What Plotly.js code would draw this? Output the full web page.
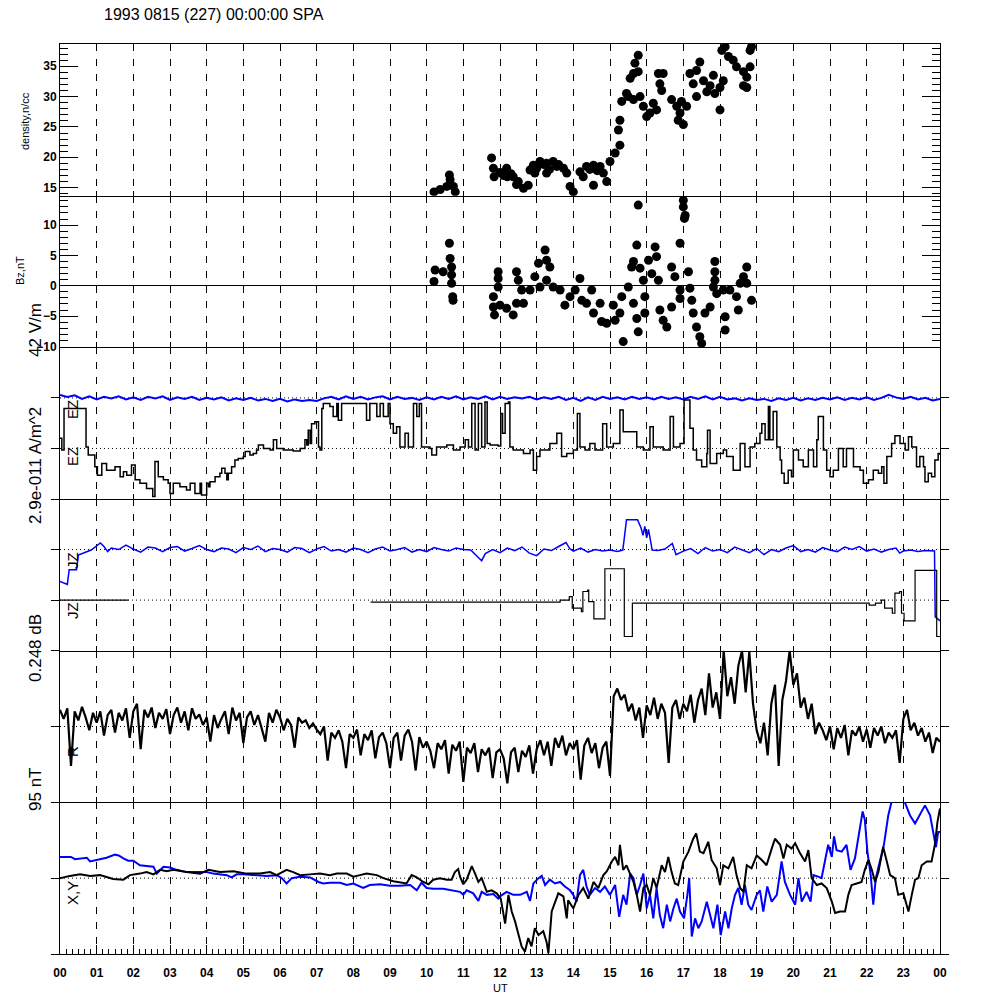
<!DOCTYPE html>
<html>
<head>
<meta charset="utf-8">
<script src="https://cdn.plot.ly/plotly-3.0.1.min.js"></script>
<style>html,body{margin:0;padding:0;background:#fff;}#chart{width:1000px;height:1000px;}</style>
</head>
<body>
<div id="chart"></div>
<script>
// ---------- tick labels ----------
const hourTicks = [0,1,2,3,4,5,6,7,8,9,10,11,12,13,14,15,16,17,18,19,20,21,22,23,24];
const hourLabels = ['00','01','02','03','04','05','06','07','08','09','10','11','12','13','14','15','16','17','18','19','20','21','22','23','00'];
const densTicks = [15,20,25,30,35];
const bzTicks = [-10,-5,0,5,10];

// ---------- panel 1: density (n/cc) ----------
const densHour = [10.20,10.37,10.55,10.62,10.64,10.73,10.78,11.77,11.82,11.84,12.00,12.10,12.18,12.20,12.30,12.36,12.45,12.50,12.64,12.77,12.82,12.91,12.95,13.00,13.09,13.20,13.27,13.27,13.35,13.45,13.55,13.60,13.73,13.82,13.91,14.00,14.18,14.27,14.36,14.45,14.55,14.55,14.65,14.73,14.82,14.91,15.00,15.14,15.27,15.23,15.27,15.32,15.45,15.55,15.64,15.68,15.77,15.77,15.50,15.64,15.82,15.91,16.00,16.09,16.18,16.27,16.32,16.45,16.36,16.41,16.68,16.82,16.86,16.91,16.95,17.00,17.09,17.18,17.27,17.36,17.36,17.45,17.55,17.64,17.73,17.82,17.86,18.00,18.00,18.05,18.09,18.14,18.23,18.36,18.45,18.64,18.64,18.73,18.73,18.82,18.82,18.86];
const densVal  = [14.3,14.7,15.2,17.1,16.3,15.2,14.3,19.9,18.2,16.8,17.5,17.0,18.2,16.8,17.3,16.8,15.5,16.0,14.9,15.4,17.9,18.7,17.4,18.2,19.3,18.8,19.0,17.4,18.0,19.3,18.5,18.8,18.2,17.4,15.2,14.3,17.6,16.8,18.5,18.0,18.7,15.4,17.8,18.5,17.4,16.0,19.3,20.7,22.0,24.5,26.1,29.2,30.5,33.0,33.8,35.5,36.8,34.1,30.0,29.5,30.0,28.4,26.7,27.3,28.9,27.8,33.8,33.8,32.1,31.0,29.5,28.4,26.1,27.3,29.2,25.4,28.4,33.8,32.1,34.3,30.0,35.7,32.6,30.8,31.8,33.5,30.5,31.5,27.8,37.6,32.6,38.2,36.6,36.0,34.9,34.1,31.8,33.2,31.5,37.6,34.9,38.2];

// ---------- panel 2: Bz (nT) ----------
const bzHour = [10.20,10.23,10.45,10.62,10.64,10.68,10.68,10.68,10.71,10.72,11.82,11.82,11.85,11.95,11.95,11.95,12.00,12.18,12.36,12.45,12.45,12.50,12.59,12.64,12.82,12.95,13.05,13.09,13.23,13.27,13.27,13.36,13.45,13.64,13.77,13.91,14.05,14.18,14.23,14.36,14.50,14.55,14.73,14.77,14.91,15.09,15.14,15.27,15.32,15.36,15.50,15.59,15.64,15.64,15.73,15.73,15.77,15.77,15.82,15.91,15.95,15.95,16.05,16.14,16.23,16.27,16.32,16.36,16.45,16.55,16.68,16.68,16.77,16.91,16.91,16.91,17.00,17.00,17.05,17.03,17.14,17.18,17.23,17.27,17.36,17.45,17.50,17.59,17.73,17.82,17.86,17.86,17.86,17.91,18.09,18.14,18.14,18.27,18.45,18.50,18.55,18.64,18.73,18.73,18.86];
const bzVal  = [0.7,2.6,2.3,7.0,4.5,3.1,1.8,0.4,-1.8,-2.4,-1.8,-3.5,-4.8,2.3,1.2,-0.2,-3.2,-3.7,-4.8,2.3,-2.9,0.9,-0.7,-2.9,-0.7,1.5,3.7,-0.2,5.9,4.2,0.9,3.1,-0.2,-0.7,-3.2,-1.8,-0.7,1.2,-2.4,-2.9,-0.7,-4.5,-2.9,-5.9,-6.2,-3.2,-5.7,-4.5,-1.8,-9.2,-0.2,3.1,4.0,-2.9,-5.4,6.7,13.3,-7.6,2.9,0.9,-1.8,-4.5,4.2,2.0,6.4,4.8,0.9,-4.0,-5.7,-6.8,-3.5,3.1,1.5,7.0,-0.7,-2.1,14.1,13.0,11.6,11.1,2.3,-0.4,-2.4,-4.5,-6.8,-8.4,-9.5,-4.5,-3.5,-0.2,4.0,2.3,0.9,-1.3,-0.7,-5.1,-7.3,-0.7,-1.8,-4.0,0.4,1.5,3.1,0.4,-2.4];

// ---------- panel 3: EZ (black step trace, blue trace) ----------
const ezBlackHour = [0.00,0.05,0.11,0.68,0.71,0.77,0.95,1.02,1.14,1.27,1.50,1.64,1.73,1.82,1.95,2.05,2.18,2.36,2.53,2.59,2.68,2.82,2.95,3.00,3.09,3.27,3.45,3.55,3.68,3.82,3.86,4.00,4.05,4.09,4.23,4.36,4.41,4.50,4.55,4.59,4.68,4.77,4.86,5.00,5.05,5.18,5.27,5.36,5.41,5.55,5.73,5.82,5.91,6.09,6.36,6.55,6.68,6.73,6.77,6.82,6.86,6.95,7.05,7.09,7.14,7.18,7.36,7.45,7.55,7.59,7.68,8.27,8.36,8.45,8.64,8.73,8.82,8.95,9.00,9.09,9.18,9.27,9.41,9.50,9.64,9.73,9.80,9.86,10.09,10.14,10.27,10.55,10.73,10.91,11.05,11.14,11.23,11.32,11.41,11.50,11.59,11.65,11.73,11.95,12.02,12.07,12.14,12.23,12.27,12.36,12.64,12.82,12.91,13.00,13.09,13.36,13.55,13.68,13.82,14.00,14.11,14.18,14.32,14.45,14.59,14.80,14.91,15.09,15.27,15.36,15.64,15.73,15.91,16.09,16.18,16.45,16.64,16.73,16.91,17.02,17.09,17.18,17.27,17.36,17.50,17.64,17.66,17.73,17.91,18.09,18.18,18.36,18.55,18.68,18.82,18.95,19.09,19.14,19.23,19.32,19.36,19.45,19.55,19.64,19.68,19.75,19.86,19.95,20.00,20.14,20.27,20.41,20.55,20.64,20.68,20.82,20.91,21.00,21.09,21.23,21.36,21.45,21.64,21.82,21.91,22.05,22.18,22.32,22.41,22.47,22.55,22.68,22.77,22.91,23.05,23.14,23.23,23.36,23.45,23.55,23.59,23.68,23.77,23.86,23.95,24.00];
const ezBlackVal  = [1.20,0.97,1.79,1.79,1.03,0.87,0.64,0.47,0.70,0.57,0.64,0.44,0.54,0.47,0.67,0.38,0.31,0.21,0.05,0.74,0.44,0.38,0.31,0.11,0.31,0.24,0.18,0.31,0.11,0.31,0.08,0.31,0.24,0.34,0.44,0.51,0.61,0.51,0.38,0.51,0.64,0.77,0.80,0.84,0.94,0.87,0.90,0.97,1.07,1.00,0.97,1.17,1.00,0.97,0.95,1.00,1.17,1.07,1.36,1.10,1.49,1.53,1.03,0.97,1.79,1.89,1.83,1.63,1.89,1.56,1.89,1.89,1.56,1.89,1.63,1.89,1.63,1.89,1.49,1.30,1.43,1.03,1.30,1.03,1.89,1.63,1.89,1.03,1.00,0.87,1.03,1.07,0.97,1.03,1.17,1.03,1.89,0.97,1.89,1.03,1.92,1.10,1.07,1.05,1.69,1.30,1.89,1.92,1.03,0.97,0.90,0.97,0.57,0.84,0.97,1.10,1.30,0.84,0.90,0.97,1.69,1.03,0.97,1.10,0.97,1.49,1.03,1.10,1.76,1.33,1.33,1.03,0.97,1.43,1.03,0.97,1.63,1.03,1.10,1.96,1.96,1.40,0.97,0.77,0.64,0.90,1.36,0.70,0.90,0.97,0.84,0.57,1.10,0.64,1.03,1.10,1.30,1.49,1.17,1.83,1.17,1.73,1.03,0.77,0.51,0.31,0.57,0.44,0.97,0.77,0.64,0.97,0.64,1.17,1.63,0.97,0.57,0.44,0.57,1.00,0.64,1.00,0.64,0.57,0.31,0.38,0.57,0.51,0.64,0.31,0.84,1.10,1.25,1.10,0.97,1.23,1.03,0.64,0.84,0.64,0.34,0.51,0.44,0.77,0.90,0.87];
// blue EZ trace, one value every 0.2 h from 00 UT
const ezBlueVal = [2.06,2.02,2.05,1.98,2.03,1.97,2.02,1.99,2.03,1.97,2.01,1.96,2.02,1.99,2.03,1.96,2.01,1.98,2.02,1.96,2.00,1.97,2.01,1.95,1.99,1.96,2.00,1.95,1.98,1.94,1.98,1.93,1.97,1.94,1.96,1.94,1.99,2.02,1.97,2.03,1.98,2.02,1.97,2.01,2.03,1.97,2.02,1.98,2.00,1.96,2.01,1.97,2.02,1.98,2.03,1.97,2.01,1.98,2.03,1.97,2.02,1.98,2.01,1.99,2.02,1.97,2.01,1.98,2.02,1.96,2.00,1.94,2.01,1.96,2.02,1.98,2.01,1.97,2.02,1.98,2.01,1.97,2.02,1.98,2.01,1.97,2.02,1.98,2.03,1.97,2.02,1.97,1.99,1.95,1.99,1.96,1.98,1.94,1.99,1.96,2.00,1.95,1.99,1.96,2.00,1.97,2.01,1.96,2.00,1.97,2.01,1.96,2.00,2.06,2.01,1.98,2.02,1.97,2.00,1.95,1.98];

// ---------- panel 4: JZ ----------
const jzBlackHour = [0.00,1.87,1.88,8.47,13.47,13.64,13.89,13.97,14.22,14.26,14.39,14.42,14.56,14.81,14.86,15.36,15.39,15.53,15.61,21.74,22.07,22.24,22.40,22.49,22.70,22.77,22.90,22.95,23.02,23.29,23.32,23.82,23.91,24.00];
const jzBlackVal  = [1.00,1.00,null,0.96,0.96,1.00,1.07,0.84,0.77,1.17,1.20,0.97,0.63,0.63,1.62,1.62,0.28,0.28,0.94,0.94,0.90,0.94,1.00,0.84,0.74,1.14,1.17,0.74,0.59,0.59,1.59,1.59,0.28,0.28];
const jzBlueHour = [0.00,0.20,0.25,0.45,0.50,0.70,0.85,1.10,1.20,1.30,1.4,1.6,1.8,2.0,2.2,2.4,2.6,2.8,3.0,3.2,3.4,3.6,3.8,4.0,4.2,4.4,4.6,4.8,5.0,5.2,5.4,5.6,5.8,6.0,6.2,6.4,6.6,6.8,7.0,7.2,7.4,7.6,7.8,8.0,8.2,8.4,8.6,8.8,9.0,9.2,9.4,9.6,9.8,10.0,10.2,10.4,10.6,10.8,11.0,11.2,11.4,11.5,11.6,11.8,12.0,12.2,12.4,12.6,12.8,13.0,13.2,13.4,13.6,13.8,13.9,14.0,14.2,14.4,14.6,14.8,15.0,15.2,15.35,15.45,15.75,15.85,15.9,15.95,16.0,16.05,16.15,16.3,16.5,16.7,16.8,17.0,17.2,17.4,17.6,17.8,18.0,18.2,18.4,18.6,18.8,19.0,19.2,19.4,19.6,19.8,20.0,20.2,20.4,20.6,20.8,21.0,21.2,21.4,21.6,21.8,22.0,22.2,22.4,22.6,22.8,22.9,23.0,23.2,23.4,23.6,23.85,23.87,24.0];
const jzBlueVal  = [1.37,1.31,1.60,1.60,1.89,1.95,1.99,2.13,2.06,1.96,2.03,2.00,2.09,2.01,1.95,2.05,2.03,1.96,2.04,2.06,1.97,2.02,2.08,2.00,1.96,2.03,2.01,1.94,2.04,2.00,2.07,1.96,2.02,2.00,1.95,2.04,2.02,1.94,2.01,2.06,1.97,2.00,1.95,2.03,2.00,1.94,2.01,2.05,1.97,2.00,2.04,1.95,2.00,1.96,2.04,2.00,1.97,2.03,2.00,1.99,1.86,1.78,1.92,2.00,1.94,2.03,1.98,2.05,1.93,1.88,2.01,1.98,2.06,2.14,2.02,1.97,2.03,1.95,2.00,1.97,1.99,1.96,1.99,2.59,2.59,2.42,2.28,2.46,2.23,2.40,1.99,1.98,2.01,2.12,1.90,1.97,2.02,1.92,2.04,1.97,2.00,1.94,2.05,1.99,1.94,2.02,1.90,2.00,1.96,2.03,2.08,1.96,2.00,1.95,2.04,1.99,1.96,2.05,2.00,2.06,1.97,2.01,1.95,2.00,2.03,1.93,1.97,1.99,1.96,1.98,1.97,0.67,0.59];

// ---------- panel 5: R (one value every 0.1 h from 00 UT) ----------
const rVal = [1.22,1.10,1.24,0.48,1.20,1.08,1.26,1.12,0.95,1.18,
1.05,1.20,0.88,1.15,1.22,0.92,1.18,1.08,1.24,0.85,
1.20,1.30,0.70,1.22,1.12,1.25,0.98,1.18,1.10,1.23,
0.90,1.15,1.25,1.05,1.20,0.95,1.24,1.10,1.16,1.02,
1.12,0.80,1.15,0.98,1.10,1.20,0.90,1.25,1.08,1.18,
0.78,1.12,1.20,1.02,1.15,0.96,0.80,1.18,1.05,1.22,
1.12,0.95,1.10,1.02,0.72,1.12,1.05,1.08,0.98,1.04,
0.96,0.90,1.00,0.55,0.92,0.85,0.95,0.80,0.45,0.90,
0.85,0.96,0.62,0.90,0.82,0.95,0.58,0.86,0.92,0.78,
0.45,0.85,0.92,0.55,0.88,0.96,0.80,0.42,0.86,0.72,
0.80,0.68,0.45,0.78,0.70,0.82,0.38,0.76,0.68,0.80,
0.27,0.72,0.65,0.78,0.40,0.70,0.62,0.72,0.32,0.66,
0.70,0.58,0.25,0.66,0.72,0.40,0.68,0.60,0.75,0.38,
0.70,0.82,0.62,0.80,0.48,0.85,0.72,0.88,0.62,0.78,
0.70,0.82,0.30,0.75,0.85,0.65,0.78,0.45,0.72,0.80,
0.35,1.40,1.50,1.35,1.42,1.20,1.30,1.08,1.25,0.85,
1.28,1.15,1.38,1.10,1.30,1.18,0.52,1.25,1.35,1.10,
1.30,1.20,1.42,1.05,1.35,1.50,1.15,1.70,1.25,1.45,
1.10,2.00,1.40,1.65,1.30,1.80,2.00,1.45,1.98,1.30,
0.95,0.78,1.05,0.62,1.30,1.55,0.48,1.35,1.60,2.00,
1.55,1.70,1.25,1.38,1.10,1.30,0.90,1.05,0.95,0.82,
1.00,0.70,0.98,0.85,1.02,0.62,0.95,0.88,1.00,0.80,
0.96,0.72,0.98,0.88,1.00,0.78,0.92,0.85,0.95,0.52,
1.10,1.22,0.95,1.05,0.88,0.98,0.80,0.92,0.65,0.85,
0.80];

// ---------- panel 6: X (black) and Y (blue) ----------
const xHour = [0,0.27,0.55,0.82,1.09,1.27,1.45,1.73,1.91,2.18,2.36,2.55,2.73,2.91,3.09,3.45,3.82,4.05,4.36,4.73,5.09,5.45,5.73,5.91,6.18,6.36,6.55,6.82,7.09,7.36,7.55,7.82,8.0,8.18,8.36,8.64,8.82,9.09,9.27,9.45,9.59,9.73,9.91,10.05,10.18,10.36,10.55,10.68,10.77,10.86,10.91,11.0,11.09,11.23,11.32,11.41,11.5,11.64,11.77,11.91,12.02,12.09,12.14,12.23,12.32,12.41,12.5,12.59,12.68,12.77,12.86,12.95,13.05,13.18,13.27,13.32,13.41,13.5,13.59,13.73,13.82,13.86,14.0,14.14,14.27,14.41,14.55,14.68,14.82,14.91,15.05,15.14,15.23,15.27,15.36,15.45,15.55,15.64,15.73,15.82,15.91,16.0,16.09,16.18,16.27,16.41,16.5,16.59,16.68,16.77,16.86,17.0,17.14,17.27,17.35,17.45,17.55,17.68,17.77,17.91,18.0,18.09,18.23,18.36,18.45,18.55,18.64,18.73,18.86,19.0,19.14,19.27,19.41,19.5,19.64,19.73,19.82,19.95,20.05,20.18,20.32,20.41,20.5,20.64,20.77,20.91,21.05,21.14,21.27,21.41,21.5,21.59,21.73,21.86,21.95,22.05,22.14,22.23,22.32,22.45,22.55,22.64,22.77,22.86,23.0,23.14,23.23,23.32,23.41,23.5,23.64,23.77,23.86,23.93,24.0];
const xVal  = [1.00,1.03,1.05,1.03,1.04,1.02,0.99,0.98,1.04,1.06,1.08,1.05,1.11,1.09,1.11,1.08,1.06,1.11,1.08,1.09,1.06,1.06,1.08,1.04,1.11,1.08,1.04,1.05,1.06,1.04,1.06,1.06,1.02,1.04,1.06,1.04,1.00,0.96,0.94,0.93,1.04,1.01,0.95,0.92,0.98,1.00,0.98,0.98,1.08,1.12,1.02,0.92,0.98,1.16,1.06,0.95,1.00,0.82,0.84,0.80,0.73,0.56,0.40,0.78,0.56,0.43,0.25,0.10,0.03,0.21,0.10,0.34,0.25,0.30,0.16,0.01,0.56,0.69,0.80,0.76,0.47,0.71,0.60,0.78,0.87,0.73,0.95,0.87,1.04,1.09,1.22,1.28,1.17,1.44,1.11,1.17,1.04,0.95,0.78,0.56,0.87,0.91,0.78,1.00,0.87,1.17,1.08,1.28,1.08,0.93,0.91,1.22,1.35,1.52,1.59,1.35,1.33,1.48,1.24,1.13,0.91,1.17,1.13,1.28,1.04,0.87,0.82,1.17,1.13,1.30,1.24,1.17,1.39,1.52,1.44,1.26,1.44,1.39,1.46,1.33,1.22,1.37,1.00,0.91,0.93,0.87,0.69,0.54,0.56,0.56,0.78,0.91,0.93,0.95,1.11,1.24,1.11,0.95,1.08,1.41,1.22,1.04,1.00,0.78,0.80,0.56,0.78,0.98,1.00,1.17,1.22,1.22,1.44,1.74,1.92];
const yHour = [0,0.30,0.41,0.73,0.82,1.0,1.09,1.27,1.5,1.6,1.73,1.86,2.0,2.18,2.36,2.55,2.64,2.73,2.82,3.0,3.18,3.45,3.73,4.0,4.18,4.36,4.55,4.68,4.82,5.0,5.27,5.64,5.91,6.05,6.18,6.32,6.55,6.82,7.05,7.18,7.36,7.64,7.82,8.0,8.27,8.45,8.73,9.0,9.27,9.55,9.73,9.86,10.0,10.18,10.45,10.73,10.91,11.0,11.09,11.27,11.41,11.5,11.64,11.82,11.95,12.0,12.18,12.36,12.55,12.73,12.82,12.91,13.05,13.14,13.23,13.36,13.5,13.64,13.77,13.91,14.0,14.09,14.18,14.27,14.36,14.45,14.59,14.73,14.86,15.0,15.14,15.25,15.36,15.45,15.55,15.64,15.73,15.82,15.91,16.0,16.09,16.18,16.27,16.36,16.45,16.55,16.64,16.73,16.82,16.91,17.02,17.11,17.16,17.23,17.32,17.41,17.5,17.64,17.73,17.82,17.93,18.02,18.14,18.23,18.32,18.41,18.5,18.59,18.68,18.77,18.86,19.0,19.09,19.18,19.29,19.41,19.55,19.68,19.77,19.91,20.05,20.14,20.23,20.36,20.47,20.55,20.68,20.77,20.86,20.95,21.05,21.11,21.18,21.32,21.45,21.56,21.68,21.8,21.89,21.95,22.02,22.11,22.18,22.25,22.36,22.47,22.59,22.7,23.0,23.18,23.32,23.45,23.59,23.73,23.82,23.89,23.95,24.0];
const yVal  = [1.28,1.28,1.25,1.27,1.22,1.24,1.26,1.27,1.31,1.30,1.26,1.23,1.23,1.17,1.16,1.15,1.06,1.11,1.15,1.14,1.11,1.08,1.08,1.08,1.06,1.05,1.04,1.01,1.05,1.05,1.04,1.03,1.04,1.00,0.93,1.00,1.02,1.01,0.95,0.93,0.94,0.94,0.91,0.93,0.87,0.91,0.92,0.90,0.90,0.91,0.84,0.94,0.87,0.86,0.86,0.84,0.82,0.78,0.84,0.80,0.70,0.82,0.78,0.79,0.73,0.76,0.82,0.78,0.78,0.82,0.70,0.93,1.00,1.03,0.91,0.98,0.93,0.95,0.89,0.84,0.78,0.69,1.04,1.11,0.89,0.78,0.87,0.82,0.89,0.78,0.91,0.49,0.78,0.65,1.06,1.00,0.78,0.91,1.06,0.60,0.78,0.47,0.87,0.51,0.34,0.65,0.43,0.60,0.73,0.56,0.47,0.78,1.00,0.23,0.47,0.34,0.43,0.69,0.51,0.34,0.65,0.25,0.56,0.34,0.60,0.78,0.87,0.65,0.91,0.65,0.58,0.78,0.84,0.56,0.89,0.69,0.78,1.22,0.95,0.78,0.65,1.00,0.69,0.82,0.69,1.04,1.02,1.00,1.22,1.44,1.28,1.55,1.37,1.35,1.44,1.11,1.26,1.61,1.88,1.77,1.35,1.04,0.65,1.00,1.22,1.44,1.83,2.05,2.05,1.83,1.72,1.83,1.96,1.83,1.57,1.41,1.61,1.61];

// ---------- styling helpers ----------
const BLUE = '#0000ff';
const tickFont = {family: 'Liberation Sans, Arial, sans-serif', size: 12, color: '#000', weight: 'bold'};
const domains = [[5/6, 1], [4/6, 5/6], [3/6, 4/6], [2/6, 3/6], [1/6, 2/6], [0, 1/6]];

function xAxis(i) {
  const last = (i === 6);
  const ax = {
    domain: [0, 1], anchor: 'y' + (i === 1 ? '' : i), range: [0, 24],
    showline: true, linecolor: '#000', linewidth: 1, mirror: (i === 1),
    showgrid: true, gridcolor: '#000', gridwidth: 1, griddash: '7px,8px',
    zeroline: false, tickmode: 'array', tickvals: hourTicks, ticktext: hourLabels,
    ticks: 'inside', ticklen: last ? 9 : 5, tickcolor: '#000',
    showticklabels: last, tickfont: tickFont, ticklabelstandoff: 8
  };
  if (last) {
    ax.minor = {tickmode: 'linear', tick0: 0, dtick: 1/6, ticks: 'inside', ticklen: 5, tickcolor: '#000', showgrid: false};
  }
  return ax;
}
function yAxis(i, extra) {
  return Object.assign({
    domain: domains[i - 1], anchor: 'x' + (i === 1 ? '' : i),
    showline: true, linecolor: '#000', linewidth: 1, mirror: 'ticks',
    showgrid: false, zeroline: false, tickcolor: '#000', tickfont: tickFont, fixedrange: true
  }, extra);
}

const traces = [
  {x: densHour, y: densVal, xaxis: 'x', yaxis: 'y', mode: 'markers', type: 'scatter',
   marker: {color: '#000', size: 9}, cliponaxis: true},
  {x: bzHour, y: bzVal, xaxis: 'x2', yaxis: 'y2', mode: 'markers', type: 'scatter',
   marker: {color: '#000', size: 9}, cliponaxis: true},
  {x0: 0, dx: 0.2, y: ezBlueVal, xaxis: 'x3', yaxis: 'y3', mode: 'lines', type: 'scatter',
   line: {color: BLUE, width: 2}},
  {x: ezBlackHour, y: ezBlackVal, xaxis: 'x3', yaxis: 'y3', mode: 'lines', type: 'scatter',
   line: {color: '#000', width: 1.5, shape: 'hv'}},
  {x: jzBlueHour, y: jzBlueVal, xaxis: 'x4', yaxis: 'y4', mode: 'lines', type: 'scatter',
   line: {color: BLUE, width: 1.5}},
  {x: jzBlackHour, y: jzBlackVal, xaxis: 'x4', yaxis: 'y4', mode: 'lines', type: 'scatter',
   line: {color: '#000', width: 1.2, shape: 'hv'}, connectgaps: false},
  {x0: 0, dx: 0.1, y: rVal, xaxis: 'x5', yaxis: 'y5', mode: 'lines', type: 'scatter',
   line: {color: '#000', width: 2.2}},
  {x: yHour, y: yVal, xaxis: 'x6', yaxis: 'y6', mode: 'lines', type: 'scatter',
   line: {color: BLUE, width: 2}},
  {x: xHour, y: xVal, xaxis: 'x6', yaxis: 'y6', mode: 'lines', type: 'scatter',
   line: {color: '#000', width: 2}}
];

function dotted(ax, val) {
  return {type: 'line', xref: 'x' + ax, yref: 'y' + ax, x0: 0, x1: 24, y0: val, y1: val,
          line: {color: '#000', width: 1, dash: '1px,3px'}, layer: 'below'};
}
function px(p) { return (p - 60) / 880; }
function py(p) { return (954 - p) / 910; }
const labFont = (s) => ({family: 'Liberation Sans, Arial, sans-serif', size: s, color: '#000'});
function vlab(text, x, y, size) {
  return {text: text, xref: 'paper', yref: 'paper', x: px(x), y: py(y), textangle: -90,
          showarrow: false, xanchor: 'center', yanchor: 'middle', font: labFont(size)};
}

const layout = {
  width: 1000, height: 1000,
  margin: {l: 60, r: 60, t: 44, b: 46, pad: 0},
  paper_bgcolor: '#fff', plot_bgcolor: '#fff',
  showlegend: false,
  xaxis: xAxis(1), xaxis2: xAxis(2), xaxis3: xAxis(3), xaxis4: xAxis(4), xaxis5: xAxis(5), xaxis6: xAxis(6),
  yaxis: yAxis(1, {range: [13.68, 38.66], tickmode: 'array', tickvals: densTicks, ticks: 'inside', ticklen: 18,
                   minor: {tickmode: 'linear', tick0: 0, dtick: 1, ticks: 'inside', ticklen: 8, tickcolor: '#000'}}),
  yaxis2: yAxis(2, {range: [-10.15, 14.85], tickmode: 'array', tickvals: bzTicks, ticks: 'inside', ticklen: 18,
                    zeroline: true, zerolinecolor: '#000', zerolinewidth: 1,
                    minor: {tickmode: 'linear', tick0: 0, dtick: 1, ticks: 'inside', ticklen: 8, tickcolor: '#000'}}),
  yaxis3: yAxis(3, {range: [0, 3], tickmode: 'array', tickvals: [0, 1, 2], ticks: 'outside', ticklen: 8, showticklabels: false}),
  yaxis4: yAxis(4, {range: [0, 3], tickmode: 'array', tickvals: [0, 1, 2], ticks: 'outside', ticklen: 8, showticklabels: false}),
  yaxis5: yAxis(5, {range: [0, 2], tickmode: 'array', tickvals: [0, 1], ticks: 'outside', ticklen: 8, showticklabels: false}),
  yaxis6: yAxis(6, {range: [0, 2], tickmode: 'array', tickvals: [0, 1], ticks: 'outside', ticklen: 8, showticklabels: false}),
  shapes: [dotted(3, 1), dotted(3, 2), dotted(4, 1), dotted(4, 2), dotted(5, 1), dotted(6, 1)],
  annotations: [
    {text: '1993 0815 (227) 00:00:00 SPA', xref: 'paper', yref: 'paper', x: px(102), y: py(15),
     xanchor: 'left', yanchor: 'middle', showarrow: false, font: labFont(16)},
    vlab('density,n/cc', 25, 121, 11),
    vlab('Bz,nT', 20, 271, 11),
    vlab('42 V/m', 35, 330, 17),
    vlab('2.9e-011 A/m^2', 35, 466, 17),
    vlab('EZ', 72, 410, 15),
    vlab('EZ', 72, 457, 15),
    vlab('JZ', 72, 561, 15),
    vlab('JZ', 72, 611, 15),
    vlab('0.248 dB', 35, 648, 17),
    vlab('R', 72, 752, 15),
    vlab('95 nT', 35, 790, 17),
    vlab('X,Y', 72, 893, 15),
    {text: 'UT', xref: 'paper', yref: 'paper', x: px(500), y: py(988), xanchor: 'center', yanchor: 'middle',
     showarrow: false, font: labFont(11)}
  ]
};

Plotly.newPlot('chart', traces, layout, {staticPlot: true, displayModeBar: false});
</script>
</body>
</html>
